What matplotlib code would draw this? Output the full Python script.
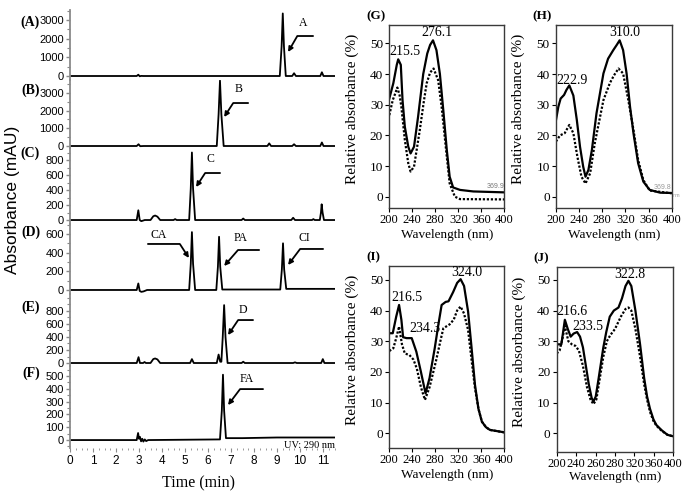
import numpy as np
import matplotlib.pyplot as plt
from matplotlib.ticker import MultipleLocator

###  data  ###

# chromatograms: time (min) / absorbance (mAU)
t_a = [0, 2.90, 2.97, 3.03, 3.09, 3.20, 9.12, 9.20, 9.25, 9.30, 9.38, 9.66, 9.74, 9.82, 10.88, 10.95, 11.02, 11.52]
y_a = [0, 0, 70, -15, 5, 0, 0, 1600, 3350, 1600, 0, 0, 150, 0, 0, 200, 0, 0]

t_b = [0, 2.90, 2.98, 3.05, 3.20, 6.38, 6.46, 6.52, 6.58, 6.68, 8.58, 8.66, 8.74, 9.66, 9.74, 9.82, 10.88, 10.95, 11.02, 11.52]
y_b = [0, 0, 100, -10, 0, 0, 1800, 3700, 1800, 0, 0, 150, 0, 0, 100, 0, 0, 200, 0, 0]

t_c = [0, 2.90, 2.97, 3.03, 3.10, 3.25, 3.50, 3.62, 3.70, 3.80, 3.92, 4.50, 4.57, 4.64, 5.18, 5.25, 5.30, 5.35, 5.44,
       7.46, 7.53, 7.60, 9.62, 9.70, 9.78, 10.52, 10.58, 10.64, 10.86, 10.91, 10.94, 10.98, 11.04, 11.52]
y_c = [0, 0, 130, 0, -15, 0, 0, 50, 60, 45, 0, 0, 12, 0, 0, 420, 900, 420, 0,
       0, 20, 0, 0, 30, 0, 0, 12, 0, 0, 100, 210, 100, 0, 0]

t_d = [0, 2.90, 2.97, 3.03, 3.10, 3.20, 3.35, 5.18, 5.25, 5.30, 5.35, 5.44, 6.36, 6.43, 6.48, 6.53, 6.62,
       9.14, 9.21, 9.26, 9.31, 9.40, 10.0, 11.52]
y_d = [0, 0, 70, -10, -20, -15, 0, 0, 280, 620, 280, 0, 0, 250, 570, 250, 5,
       5, 220, 500, 220, 12, 12, 12]

t_e = [0, 2.90, 2.98, 3.04, 3.18, 3.24, 3.30, 3.50, 3.62, 3.70, 3.80, 3.92, 5.22, 5.30, 5.38, 6.38, 6.46, 6.53, 6.58,
       6.64, 6.70, 6.76, 6.85, 7.46, 7.53, 7.60, 9.70, 9.78, 9.86, 10.92, 10.99, 11.06, 11.52]
y_e = [0, 0, 90, 0, 0, 15, 0, 0, 60, 70, 55, 0, 0, 60, 0, 0, 130, 20, 20,
       400, 890, 400, 0, 0, 20, 0, 0, 10, 0, 0, 60, 0, 0]

t_f = [0, 2.90, 2.96, 3.00, 3.04, 3.09, 3.14, 3.19, 3.25, 3.31, 3.40, 6.52, 6.60, 6.65, 6.70, 6.78, 7.5, 9.0, 10.5, 11.52]
y_f = [0, 0, 55, 10, 25, -10, 10, -12, 5, -8, 0, 5, 230, 510, 230, 15, 15, 20, 20, 20]

traces = [(t_a, y_a), (t_b, y_b), (t_c, y_c), (t_d, y_d), (t_e, y_e), (t_f, y_f)]
panel_names = ['(A)', '(B)', '(C)', '(D)', '(E)', '(F)']
ylims = [(-214, 3535), (-113, 3735), (-53, 960), (-43, 707), (-46, 1061), (-62, 578)]
ystep = [1000, 1000, 200, 200, 200, 100]
ytop = [3000, 3000, 800, 600, 800, 500]

# peak arrows: panel, tip time, tip mAU, label, end dx, dy, diag angle, label dx, label dy (pixels)
arrows = [
    (0, 9.48, 1285, 'A', 25, 16, 60, 15, 29),
    (1, 6.70, 1640, 'B', 24, 14, 57, 14, 28),
    (2, 5.48, 440, 'C', 24, 14, 57, 14, 28),
    (3, 5.17, 343, 'CA', -41, 14, 123, -30, 23),
    (3, 6.70, 257, 'PA', 35, 16, 49, 16, 28),
    (3, 9.48, 268, 'CI', 35, 16, 53, 16, 27),
    (4, 6.87, 430, 'D', 25, 15, 56, 15, 25),
    (5, 6.87, 273, 'FA', 35, 16, 53, 19, 26),
]

# UV spectra: wavelength (nm) / relative absorbance (%)
g_nm = [200, 207, 213, 215.5, 220, 223, 227, 233, 237, 243, 250, 259, 266, 271, 276, 282, 288, 294, 300, 305, 311, 323, 346, 400]
g_solid = [32, 37, 43, 44.8, 43, 31.5, 22.8, 16.3, 14.1, 16.3, 26, 40, 46.7, 49.5, 51, 47.8, 40, 28, 15.2, 6.5, 3, 2.2, 1.7, 1.4]
g_nm_d = [200, 206, 210, 214, 218, 221, 227, 233, 237, 243, 253, 260, 265, 271, 277, 285, 291, 300, 305, 314, 323, 400]
g_dot = [26.6, 31.5, 33.5, 35.6, 33, 29.3, 18.5, 10.9, 8.2, 9.8, 21.7, 31, 37, 40.5, 41.8, 38, 29.3, 13, 4.3, 0, -0.8, -0.9]

h_nm = [200, 204, 208, 214, 218, 223, 230, 236, 241.5, 247, 251, 256, 262, 270, 282, 290, 299, 305, 310, 316, 322, 328,
        334, 342, 351, 362, 380, 400]
h_solid = [25, 29.3, 32, 33.2, 34.8, 36.3, 33, 25, 16.3, 9.8, 6.5, 8.7, 15.2, 27.2, 40.2, 45, 47.8, 49.5, 51, 47.8, 40.2, 29.3,
           20.6, 10.9, 4.9, 2.2, 1.3, 1.2]
h_nm_d = [200, 207, 215, 223, 230, 237, 244, 251, 259, 267, 282, 293, 300, 308, 316, 325, 334, 342, 351, 362, 400]
h_dot = [18, 20, 20.7, 23.4, 20.7, 13, 6.5, 4.3, 7.6, 17.4, 31.5, 37, 39.5, 41.8, 40.2, 31.5, 21.7, 12, 5.4, 2, 1.1]

i_nm = [200, 206, 212, 217, 221, 224, 230, 239, 247, 255, 263, 270, 279, 285, 291, 298, 303, 311, 318, 324, 330, 337,
        343, 349, 355, 361, 368, 375, 400]
i_solid = [32.6, 32.6, 38, 41.8, 37, 31.3, 31, 31, 26.6, 20, 13, 18, 27.7, 35, 41.8, 42.8, 43, 46, 49, 50.2, 48, 39.7,
           28, 15.8, 8, 3.8, 2, 1.1, 0.3]
i_nm_d = [200, 207, 212, 217, 222, 227, 235, 242, 248, 255, 262, 270, 281, 290, 294, 305, 312, 318, 324, 330, 337, 343,
          349, 355, 361, 368, 375, 400]
i_dot = [26.8, 27.7, 31, 34.8, 29, 26, 25.5, 24, 21, 15, 10.9, 15, 23.4, 31, 34.2, 35.5, 37, 40, 41.3, 39, 33.7, 24,
         14.7, 8, 3.8, 2, 1.1, 0.3]

j_nm = [200, 208, 211, 214, 219, 224, 229, 235, 240, 245, 250, 255, 260, 263, 267, 272, 276, 280, 285, 291, 298, 306,
        312, 318, 323, 328, 335, 343, 350, 355, 360, 366, 371, 380, 390, 400]
j_solid = [29, 29, 33, 37, 34, 31.5, 32.5, 33, 31.5, 28, 22, 16, 11.5, 10.3, 12, 18, 23, 28, 33, 38, 40, 41,
           44, 48, 49.7, 48, 40, 29, 18, 12, 8, 4.5, 2.7, 1, -0.5, -1]
j_nm_d = [200, 205, 210, 214, 220, 226, 232, 238, 245, 252, 258, 263, 268, 274, 280, 286, 292, 300, 310, 318, 323, 328,
          335, 343, 350, 355, 360, 366, 371, 380, 390, 400]
j_dot = [26, 27, 31, 35, 30, 29, 28.5, 27, 22, 15, 11, 9.5, 11, 18, 25, 30, 32, 34, 38, 40.5, 41, 40,
         34, 25, 16, 11, 7, 4, 2.5, 0.8, -0.5, -1]

spectra = [('(G)', g_nm, g_solid, g_nm_d, g_dot), ('(H)', h_nm, h_solid, h_nm_d, h_dot),
           ('(I)', i_nm, i_solid, i_nm_d, i_dot), ('(J)', j_nm, j_solid, j_nm_d, j_dot)]
spec_ylims = [(-3.7, 56.0), (-3.7, 56.0), (-4.7, 54.6), (-6.0, 54.3)]
# peak labels: text, nm, value
peak_labels = [
    [('215.5', 227.3, 47.5), ('276.1', 283, 53.4)],
    [('222.9', 227.7, 38.0), ('310.0', 319.3, 53.4)],
    [('216.5', 230.6, 44.4), ('234.3', 262, 34.0), ('324.0', 335, 52.3)],
    [('216.6', 226.2, 39.6), ('233.5', 253.7, 34.7), ('322.8', 325.7, 51.9)],
]
j_ticklabels = ['200', '240', '260', '280', '320', '360', '400']

###  figure  ###

W, H = 685, 495
SERIF = 'Liberation Serif'
SANS = 'Liberation Sans'
fig = plt.figure(figsize=(W / 100, H / 100), dpi=100)


def px_axes(l, t, r, b):
    return fig.add_axes([l / W, 1 - b / H, (r - l) / W, (b - t) / H])


# chromatogram stack
bounds = [(10, 80), (80, 148), (148, 224), (224, 294), (294, 366), (366, 448)]
label_y = [22, 90, 153, 232, 307, 373]
chrom_axes = []
for k, (top, bot) in enumerate(bounds):
    ax = px_axes(70, top, 335, bot)
    t, y = traces[k]
    ax.plot(t, y, color='black', lw=1.3)
    ax.set_xlim(0, 11.52)
    ax.set_ylim(*ylims[k])
    ax.set_yticks(np.arange(0, ytop[k] + 1, ystep[k]))
    ax.yaxis.set_minor_locator(MultipleLocator(ystep[k] / 2))
    for s in ['top', 'right', 'bottom']:
        ax.spines[s].set_visible(False)
    ax.spines['left'].set_color('#8a8a8a')
    ax.spines['left'].set_linewidth(1.3)
    ax.tick_params(axis='y', which='major', direction='out', length=3, width=1, color='#8a8a8a',
                   labelsize=8, pad=1.5)
    ax.tick_params(axis='y', which='minor', direction='out', length=2, width=0.8, color='#8a8a8a')
    for lab in ax.get_yticklabels():
        lab.set_family(SANS)
    if k < 5:
        ax.set_xticks([])
    else:
        ax.spines['bottom'].set_color('#8a8a8a')
        ax.spines['bottom'].set_linewidth(1.3)
        ax.set_xticks(range(0, 12))
        ax.xaxis.set_minor_locator(MultipleLocator(0.25))
        ax.tick_params(axis='x', which='major', direction='out', length=3, color='#8a8a8a', labelsize=8.5, pad=2)
        ax.tick_params(axis='x', which='minor', direction='out', length=1.5, color='#8a8a8a')
        for lab in ax.get_xticklabels():
            lab.set_family(SANS)
    ax.patch.set_alpha(0)
    fig.text(40 / W, 1 - label_y[k] / H, panel_names[k], ha='right', va='center',
             family=SERIF, fontweight='bold', fontsize=10)
    chrom_axes.append(ax)

for k, tx, ty, lab, dxe, dy, ang, ldx, ldy in arrows:
    ax = chrom_axes[k]
    ax.annotate('', xy=(tx, ty), xytext=(dxe, dy), textcoords='offset pixels',
                arrowprops=dict(arrowstyle='-|>', connectionstyle=f'angle,angleA=0,angleB={ang},rad=0',
                                shrinkA=0, shrinkB=0, lw=1.3, color='black', mutation_scale=7))
    ax.annotate(lab, xy=(tx, ty), xytext=(ldx, ldy), textcoords='offset pixels',
                ha='center', va='center', family=SERIF, fontsize=8.5)

chrom_axes[5].text(11.52, -10, 'UV: 290 nm', ha='right', va='top', family=SERIF, fontsize=7.5)

fig.text(13 / W, 1 - 200 / H, 'Absorbance (mAU)', rotation=90, ha='center', va='center',
         family=SANS, fontsize=12.5)
fig.text(198 / W, 1 - 483 / H, 'Time (min)', ha='center', va='center', family=SERIF, fontsize=11.5)

# UV spectra
spec_boxes = [(389.3, 25, 504.3, 208), (556, 25, 671.7, 208), (389.3, 265.7, 504.3, 447.7), (556.7, 266.7, 673.3, 451.7)]
xlab_y = [-0.15, -0.15, -0.15, -0.135]
for k, (name, nm_s, v_s, nm_d, v_d) in enumerate(spectra):
    ax = px_axes(*spec_boxes[k])
    ax.plot(nm_s, v_s, color='black', lw=1.6)
    ax.plot(nm_d, v_d, color='black', lw=1.6, ls=(0, (1, 0.8)))
    ax.set_xlim(200, 400)
    ax.set_ylim(*spec_ylims[k])
    ax.set_yticks(range(0, 51, 10))
    if k == 3:
        ax.set_xticks(np.linspace(200, 400, 7))
        ax.set_xticklabels(j_ticklabels)
    else:
        ax.set_xticks(range(200, 401, 40))
    for s in ax.spines.values():
        s.set_color('#3a3a3a')
        s.set_linewidth(1.0)
    ax.tick_params(direction='out', length=3, width=0.8, labelsize=9, pad=1.5)
    ax.tick_params(axis='y', labelsize=9.5)
    for lab in ax.get_xticklabels() + ax.get_yticklabels():
        lab.set_family(SERIF)
    ax.set_ylabel('Relative absorbance (%)', family=SERIF, fontsize=11)
    ax.yaxis.set_label_coords(-0.265, 0.54)
    ax.set_xlabel('Wavelength (nm)', family=SERIF, fontsize=9.5, va='center')
    ax.xaxis.set_label_coords(0.5, xlab_y[k])
    for txt, lx, ly in peak_labels[k]:
        ax.text(lx, ly, txt, ha='center', va='center', family=SERIF, fontsize=10)
    ax.text(-0.2, 1.045, name, transform=ax.transAxes, ha='left', va='center',
            family=SERIF, fontweight='bold', fontsize=9.5)
    if k == 0:
        ax.text(400, 2.3, '369.9', ha='right', va='bottom', fontsize=5, color='#777777', family=SANS)
    if k == 1:
        ax.text(400, 1.8, '369.8', ha='right', va='bottom', fontsize=5, color='#999999', family=SANS)
        ax.text(1.01, 0.07, 'nm', transform=ax.transAxes, ha='left', va='center', fontsize=4,
                color='#999999', family=SANS)

fig.savefig('out.png', dpi=100)
